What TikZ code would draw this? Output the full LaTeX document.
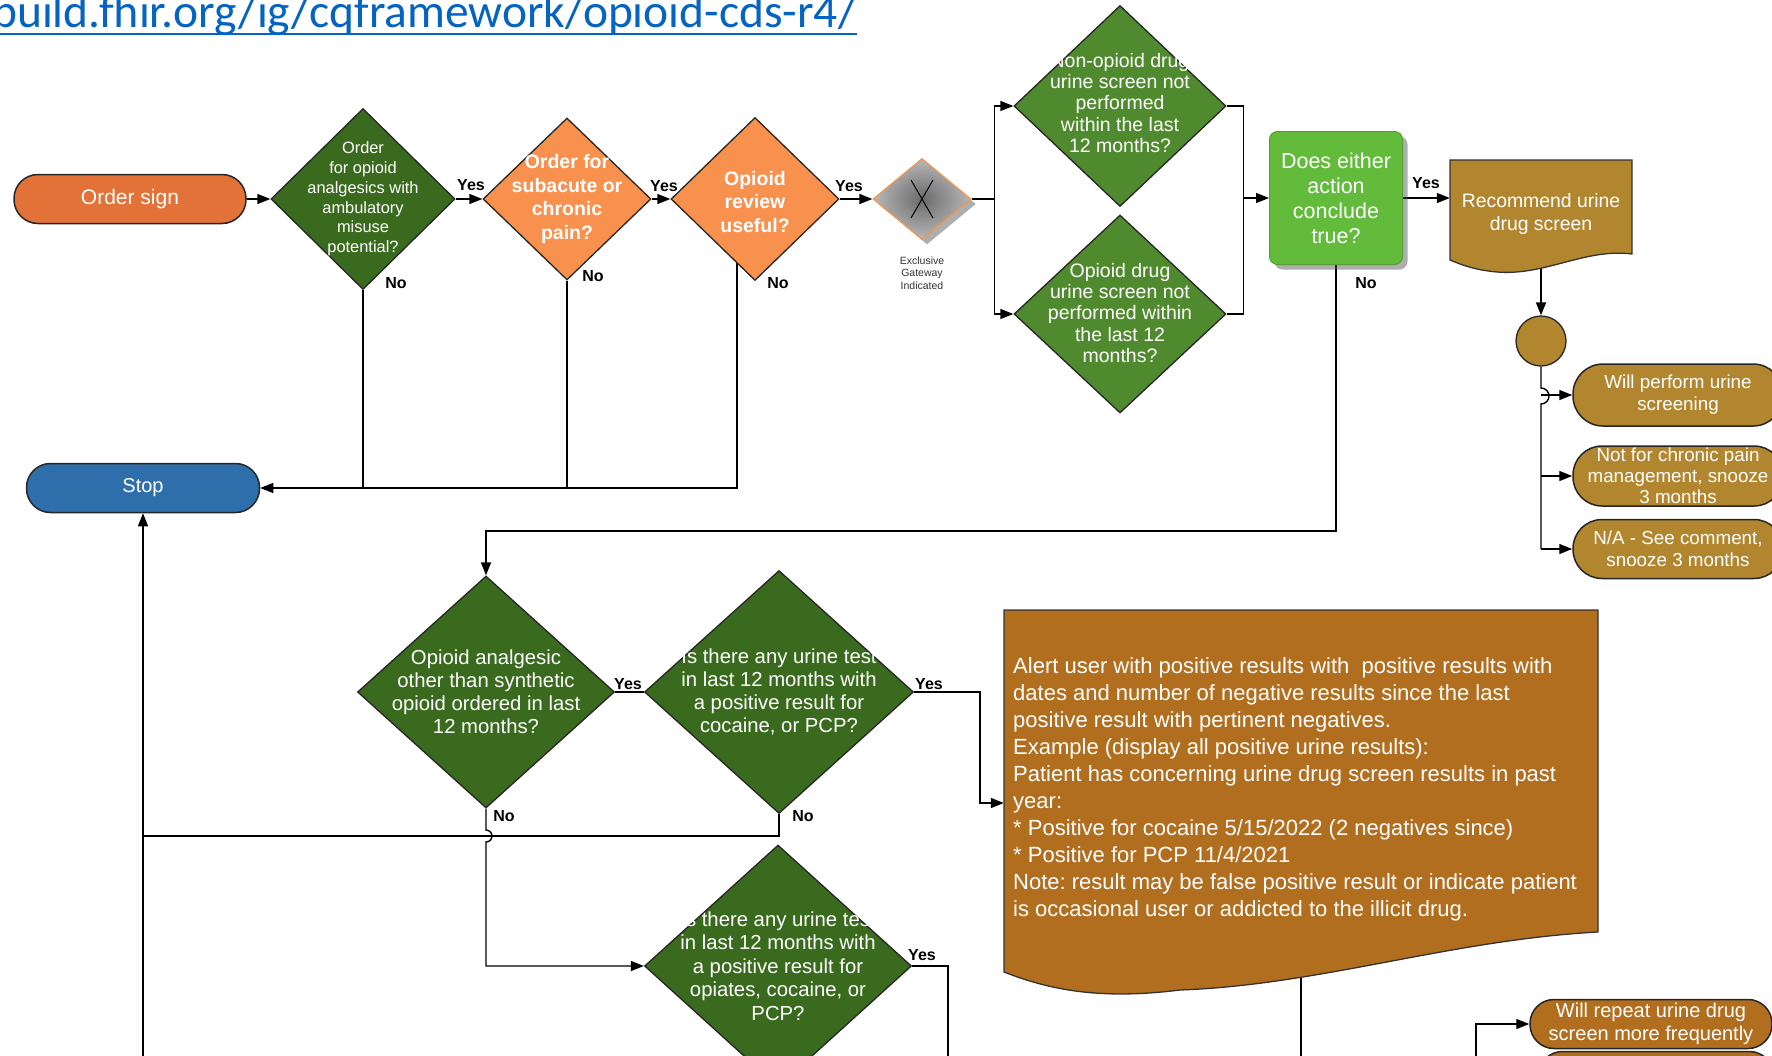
\documentclass[tikz,border=0pt]{standalone}
\usepackage{fontspec}
\setmainfont{Liberation Sans}
\newfontfamily\linkfont{Carlito}
\usetikzlibrary{shapes.geometric,arrows.meta,shadows}
\pgfdeclarelayer{bg}
\pgfsetlayers{bg,main}
\definecolor{ordorange}{RGB}{226,114,56}
\definecolor{dkgreen}{RGB}{58,106,30}
\definecolor{orangeD}{RGB}{247,145,77}
\definecolor{mdgreen}{RGB}{80,138,46}
\definecolor{brgreen}{RGB}{98,187,58}
\definecolor{gold}{RGB}{178,134,46}
\definecolor{brownD}{RGB}{176,110,30}
\definecolor{stopblue}{RGB}{46,110,170}
\definecolor{linkblue}{RGB}{5,99,193}
\definecolor{gwor}{RGB}{240,150,80}
\frenchspacing
\begin{document}
\begin{tikzpicture}[x=1pt,y=-1pt,
  conn/.style={draw=black, line width=1.4pt},
  arr/.style={conn, -{Triangle[length=13pt,width=10pt]}},
  term/.style={rectangle, draw=black!85, line width=1.5pt, text=white, align=center, inner sep=0pt},
  dia/.style={diamond, draw=black!85, line width=1.3pt, inner sep=0pt},
  dtxt/.style={text=white, align=center, inner sep=0pt},
  lab/.style={font=\bfseries\fontsize{16}{18}\selectfont, inner sep=0pt, text=black},
  docshape/.style={draw=black!80, line width=1.3pt},
  shad/.style={drop shadow={shadow xshift=5pt, shadow yshift=-5pt, opacity=0.45, fill=black!70}}
]
\useasboundingbox (0,0) rectangle (1772,1055);

% link
\node[anchor=base west, inner sep=0pt, text=linkblue, font=\linkfont\fontsize{47.5}{50}\selectfont] (link) at (-8,27) {build.fhir.org/ig/cqframework/opioid-cds-r4/};
\draw[linkblue, line width=2.5pt] ([yshift=-7pt]link.base west) -- ([yshift=-7pt]link.base east);

% row 1
\node[term, rounded corners=24pt, fill=ordorange, minimum width=232pt, minimum height=49pt, font=\fontsize{21}{24}\selectfont] (ord) at (130,199) {Order sign};
\node[dia, fill=dkgreen, minimum width=184pt, minimum height=181pt] (d1) at (363,199) {};
\node[dtxt, font=\fontsize{16.4}{19.7}\selectfont] (d1t) at (d1.center) {Order\\for opioid\\analgesics with\\ambulatory\\misuse\\potential?};
\node[dia, fill=orangeD, minimum width=168pt, minimum height=162pt] (d2) at (567,199) {};
\node[dtxt, font=\bfseries\fontsize{19.5}{23.4}\selectfont] (d2t) at (d2.center) {Order for\\subacute or\\chronic\\pain?};
\node[dia, fill=orangeD, minimum width=168pt, minimum height=163pt] (d3) at (755,199) {};
\node[dtxt, font=\bfseries\fontsize{19.5}{23.4}\selectfont] (d3t) at ([yshift=-3pt]d3.center) {Opioid\\review\\useful?};

\node[dia, draw=gwor, line width=1.2pt, inner color=black!58, outer color=black!28, minimum width=98pt, minimum height=81pt, shad] (gw) at (922,199) {};
\draw[line width=1pt] (gw.center) ++(-11,-19) -- ++(22,38) (gw.center) ++(11,-19) -- ++(-22,38);
\node[font=\fontsize{10.5}{12.5}\selectfont, align=center, text=black!80, inner sep=0pt] (gwl) at (922,273) {Exclusive\\Gateway\\Indicated};

\node[dia, fill=mdgreen, minimum width=212pt, minimum height=201pt] (d4) at (1120,106) {};
\node[dtxt, font=\fontsize{19.5}{21.2}\selectfont] (d4t) at (1120,103) {Non-opioid drug\\urine screen not\\performed\\within the last\\12 months?};
\node[dia, fill=mdgreen, minimum width=212pt, minimum height=198pt] (d5) at (1120,314) {};
\node[dtxt, font=\fontsize{19.5}{21.2}\selectfont] (d5t) at (1120,313) {Opioid drug\\urine screen not\\performed within\\the last 12\\months?};

\node[rectangle, rounded corners=8pt, fill=brgreen, draw=brgreen!85!black, line width=1pt, minimum width=133pt, minimum height=133pt, shad, text=white, align=center, inner sep=0pt, font=\fontsize{21.5}{24.9}\selectfont] (gb) at (1336,198) {Does either\\action\\conclude\\true?};

\fill[gold, docshape] (1450,160) -- (1632,160) -- (1632,254) .. controls (1585,248) and (1545,276) .. (1497,272) .. controls (1475,270) and (1462,265) .. (1450,260) -- cycle;
\node[minimum width=182pt, minimum height=104pt, inner sep=0pt, text=white, align=center, font=\fontsize{19.4}{22.6}\selectfont] (rec) at (1541,214) {Recommend urine\\drug screen};

\node[circle, fill=gold, draw=black!85, line width=1.3pt, minimum size=50pt, inner sep=0pt] (circ) at (1541,341) {};
\node[term, rounded corners=30pt, fill=gold, minimum width=210pt, minimum height=62pt, font=\fontsize{18.8}{22}\selectfont] (t1) at (1678,395) {Will perform urine\\screening};
\node[term, rounded corners=29pt, fill=gold, minimum width=210pt, minimum height=60pt, font=\fontsize{18.8}{21.2}\selectfont] (t2) at (1678,476) {Not for chronic pain\\management, snooze\\3 months};
\node[term, rounded corners=29pt, fill=gold, minimum width=210pt, minimum height=59pt, font=\fontsize{18.8}{22}\selectfont] (t3) at (1678,549) {N/A - See comment,\\snooze 3 months};

\node[term, rounded corners=24pt, fill=stopblue, minimum width=233pt, minimum height=49pt, font=\fontsize{20}{24}\selectfont] (stop) at (143,488) {Stop};

% row 2
\node[dia, fill=dkgreen, minimum width=257pt, minimum height=232pt] (d6) at (486,692) {};
\node[dtxt, font=\fontsize{20.3}{23}\selectfont] (d6t) at (d6.center) {Opioid analgesic\\other than synthetic\\opioid ordered in last\\12 months?};
\node[dia, fill=dkgreen, minimum width=269pt, minimum height=243pt] (d7) at (779,692) {};
\node[dtxt, font=\fontsize{20.3}{23}\selectfont] (d7t) at (d7.center) {Is there any urine test\\in last 12 months with\\a positive result for\\cocaine, or PCP?};
\node[dia, fill=dkgreen, minimum width=267pt, minimum height=242pt] (d8) at (778,966) {};
\node[dtxt, font=\fontsize{20.3}{23.5}\selectfont] (d8t) at (d8.center) {Is there any urine test\\in last 12 months with\\a positive result for\\opiates, cocaine, or\\PCP?};

\fill[brownD, docshape] (1004,610) -- (1598,610) -- (1598,932) .. controls (1450,940) and (1320,985) .. (1180,990) .. controls (1100,1000) and (1050,990) .. (1004,972) -- cycle;
\node[minimum width=594pt, minimum height=322pt, inner sep=0pt] (alert) at (1301,771) {};
\node[text=white, align=left, anchor=west, inner sep=0pt, font=\fontsize{22}{27}\selectfont] (alerttxt) at (1013,789) {Alert user with positive results with\ \ positive results with\\
dates and number of negative results since the last\\
positive result with pertinent negatives.\\
Example (display all positive urine results):\\
Patient has concerning urine drug screen results in past\\
year:\\
* Positive for cocaine 5/15/2022 (2 negatives since)\\
* Positive for PCP 11/4/2021\\
Note: result may be false positive result or indicate patient\\
is occasional user or addicted to the illicit drug.};

\node[term, rounded corners=24pt, fill=brownD, minimum width=242pt, minimum height=49pt, font=\fontsize{20}{22.6}\selectfont] (t4) at (1651,1024) {Will repeat urine drug\\screen more frequently};
\node[term, rounded corners=24pt, fill=brownD, minimum width=235pt, minimum height=49pt] (t5) at (1656,1076) {};
\coordinate (b4) at (1476,1060);
\coordinate (sb) at (143,1060);

% labels
\node[lab] (y1) at (471,185) {Yes};
\node[lab] (y2) at (664,186) {Yes};
\node[lab] (y3) at (849,186) {Yes};
\node[lab] (y4) at (1426,183) {Yes};
\node[lab] (n1) at (396,283) {No};
\node[lab] (n2) at (593,276) {No};
\node[lab] (n3) at (778,283) {No};
\node[lab] (n4) at (1366,283) {No};
\node[lab] (y5) at (628,684) {Yes};
\node[lab] (y6) at (929,684) {Yes};
\node[lab] (n5) at (504,816) {No};
\node[lab] (n6) at (803,816) {No};
\node[lab] (y7) at (922,955) {Yes};

% connectors
\begin{pgfonlayer}{bg}
\draw[arr] (ord.east) -- (d1.west);
\draw[arr] (d1.east) -- (d2.west);
\draw[arr] (d2.east) -- (d3.west);
\draw[arr] (d3.east) -- (gw.west);
\draw[arr] (gw.east) -- ++(23,0) coordinate (sp) |- (d4.west);
\draw[arr] (sp) |- (d5.west);
\draw[conn] (d4.east) -- ++(17,0) coordinate (mg) |- (d5.east);
\draw[arr] (mg |- gb.west) -- (gb.west);
\draw[arr] (gb.east) -- (rec.west |- gb.east);
\draw[arr] (rec.south) -- (circ.north);
\draw[conn] (circ.south) -- (circ.south |- 0,388) arc[start angle=90,end angle=-90,radius=8pt] -- (circ.south |- t3.west);
\draw[arr] (circ.south |- t1.west) -- (t1.west);
\draw[arr] (circ.south |- t2.west) -- (t2.west);
\draw[arr] (circ.south |- t3.west) -- (t3.west);
\draw[conn] (d1.south) -- (d1.south |- stop.east);
\draw[conn] (d2.south) -- (d2.south |- stop.east);
\draw[arr] (d3.south) ++(-18,-18) |- (stop.east);
\draw[arr] (sb) -- (stop.south);
\draw[arr] (gb.south) -- (gb.south |- 0,531) -| (d6.north);
\draw[conn] (d6.east) -- (d7.west);
\draw[arr] (d7.east) -- ++(66,0) |- ([yshift=-32pt]alert.west);
\draw[conn] (d7.south) |- (sb |- 0,836);
\draw[arr] (d6.south) -- (d6.south |- 0,830) arc[start angle=90,end angle=-90,radius=6pt] -- (d6.south |- d8.west) -- (d8.west);
\draw[conn] (d8.east) -- ++(36,0) -- ++(0,120);
\draw[conn] (alert.south) -- ++(0,130);
\draw[arr] (b4) |- (t4.west);
\end{pgfonlayer}
\end{tikzpicture}
\end{document}
